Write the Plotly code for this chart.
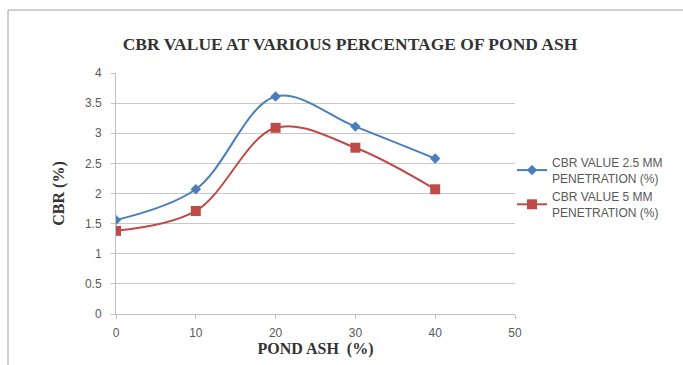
import plotly.graph_objects as go

pond_ash = [0, 10, 20, 30, 40]
cbr_25 = [1.56, 2.07, 3.61, 3.11, 2.58]
cbr_5 = [1.38, 1.71, 3.09, 2.76, 2.07]
names = ["CBR VALUE 2.5 MM<br>PENETRATION (%)", "CBR VALUE 5 MM<br>PENETRATION (%)"]

W, H = 683, 365
L, R, T, B = 116, 168, 73, 51
pw, ph = W - L - R, H - T - B

fig = go.Figure()
fig.add_trace(go.Scatter(x=pond_ash, y=cbr_25, name=names[0], mode="lines+markers",
                         line=dict(color="#4A7EBB", width=2, shape="spline", smoothing=1.0),
                         marker=dict(symbol="diamond", size=8, color="#4A7EBB")))
fig.add_trace(go.Scatter(x=pond_ash, y=cbr_5, name=names[1], mode="lines+markers",
                         line=dict(color="#BE4B48", width=2, shape="spline", smoothing=1.0),
                         marker=dict(symbol="square", size=10, color="#BE4B48")))

def px2x(p):
    return (p - L) / pw

def py2y(p):
    return (H - B - p) / ph

fig.update_layout(
    width=W, height=H,
    margin=dict(l=L, r=R, t=T, b=B),
    paper_bgcolor="white", plot_bgcolor="white",
    title=dict(text="<b>CBR VALUE AT VARIOUS PERCENTAGE OF POND ASH</b>",
               x=px2x(350), xref="paper", xanchor="center",
               y=1 - 44 / H, yanchor="middle",
               font=dict(family="Liberation Serif", size=17.5, color="#333333")),
    xaxis=dict(range=[0, 50], tickvals=[0, 10, 20, 30, 40, 50], showgrid=False,
               showline=True, linecolor="#BFBFBF", ticks="outside", ticklen=4, tickcolor="#BFBFBF",
               tickfont=dict(family="Liberation Sans", size=12, color="#595959"),
               ticklabelstandoff=4, automargin=False,
               zeroline=False,
               title=dict(text="<b>POND ASH  (%)</b>", standoff=0,
                          font=dict(family="Liberation Serif", size=16, color="#333333"))),
    yaxis=dict(range=[0, 4], dtick=0.5, showgrid=True, gridcolor="#C8C8C8", gridwidth=1,
               showline=True, linecolor="#BFBFBF", ticks="outside", ticklen=4, tickcolor="#BFBFBF",
               tickfont=dict(family="Liberation Sans", size=12, color="#595959"),
               ticklabelstandoff=7, automargin=False,
               zeroline=False,
               title=dict(text="<b>CBR (%)</b>", standoff=16,
                          font=dict(family="Liberation Serif", size=16, color="#333333"))),
    legend=dict(x=px2x(512), y=py2y(148), xanchor="left", yanchor="top",
                font=dict(family="Liberation Sans", size=12, color="#595959"),
                bgcolor="rgba(0,0,0,0)", tracegroupgap=14),
    showlegend=True,
)

fig.add_shape(type="line", xref="paper", yref="paper",
              x0=px2x(8), x1=px2x(683), y0=py2y(10), y1=py2y(10),
              line=dict(color="#A0A0A0", width=1))
fig.add_shape(type="line", xref="paper", yref="paper",
              x0=px2x(8), x1=px2x(8), y0=py2y(10), y1=py2y(365),
              line=dict(color="#A0A0A0", width=1))

fig.write_html("out.html")
